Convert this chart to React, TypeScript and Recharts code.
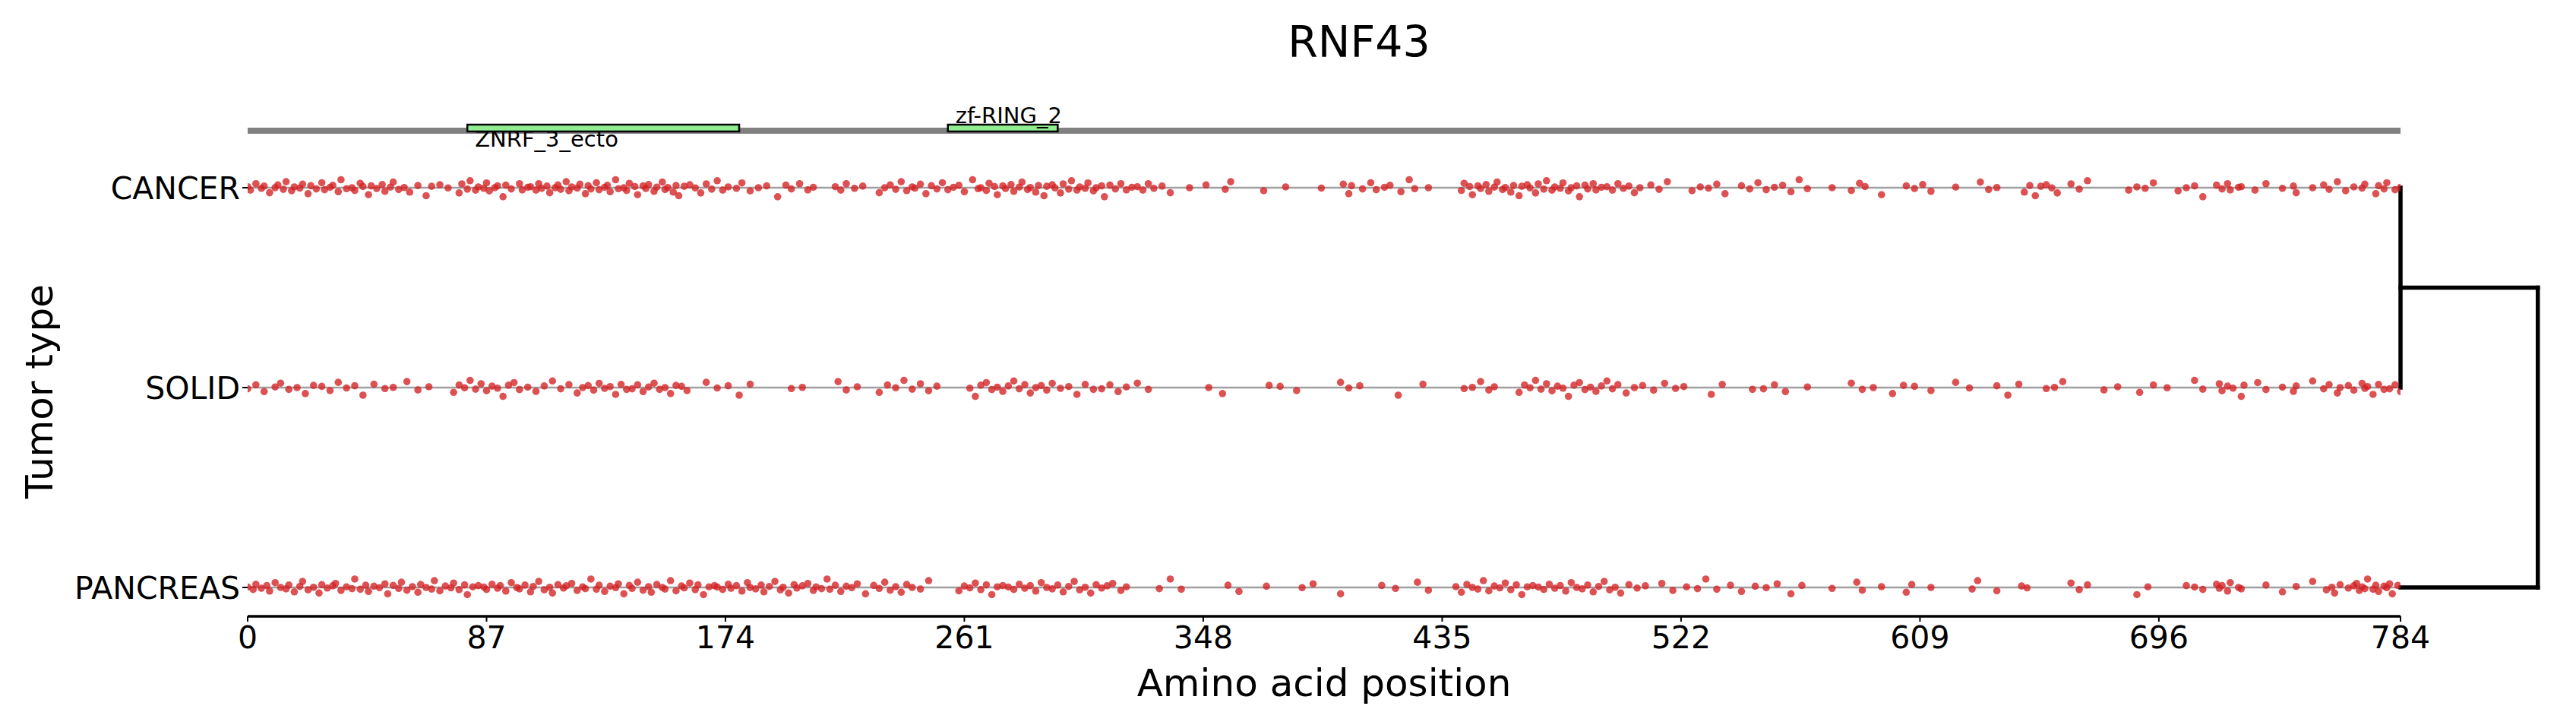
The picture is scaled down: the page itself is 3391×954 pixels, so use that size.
import { ReferenceArea, ReferenceLine, Scatter, ScatterChart, XAxis, YAxis } from 'recharts';

const geneName = 'RNF43';
const proteinLength = 784;
const tumorTypes = ['CANCER', 'SOLID', 'PANCREAS'];
const xTicks = [0, 87, 174, 261, 348, 435, 522, 609, 696, 784];

const domainNames = ['ZNRF_3_ecto', 'zf-RING_2'];
const domainStarts = [80, 255];
const domainEnds = [179, 295];

// mutation positions (amino acid) per tumor type
const cancerPositions = [
  0, 1, 3, 5, 6, 8, 10, 11, 13, 14, 16, 17, 19, 20, 22, 23, 25, 27, 28, 30, 31, 33, 34, 36, 38, 39, 41, 42, 44, 45,
  47, 49, 50, 52, 53, 55, 57, 59, 62, 65, 67, 70, 73, 77, 78, 80, 81, 83, 84, 86, 87, 88, 90, 91, 93, 94, 96, 99,
  100, 102, 103, 105, 106, 107, 109, 110, 112, 113, 114, 116, 117, 118, 120, 121, 123, 124, 125, 127, 128, 130, 131,
  132, 134, 135, 137, 138, 139, 141, 142, 144, 145, 146, 148, 149, 151, 152, 153, 155, 156, 157, 159, 161, 163, 165,
  167, 169, 171, 173, 175, 178, 180, 183, 186, 189, 193, 196, 198, 201, 204, 206, 214, 216, 218, 221, 224, 230, 232,
  234, 236, 238, 240, 242, 243, 245, 247, 249, 251, 253, 255, 257, 259, 261, 264, 266, 267, 269, 270, 272, 273, 275,
  276, 278, 279, 281, 282, 284, 285, 287, 288, 290, 291, 293, 294, 296, 297, 299, 300, 302, 303, 305, 306, 308, 309,
  311, 312, 314, 316, 318, 320, 322, 324, 326, 328, 330, 333, 336, 343, 349, 356, 358, 370, 378, 391, 399, 401, 402,
  406, 409, 411, 414, 416, 420, 423, 425, 430, 442, 443, 445, 446, 448, 449, 451, 452, 454, 455, 457, 458, 460, 461,
  463, 464, 466, 467, 469, 470, 472, 473, 475, 476, 478, 479, 481, 482, 484, 485, 487, 488, 490, 491, 493, 495, 497,
  499, 501, 503, 505, 507, 511, 514, 517, 526, 529, 532, 535, 538, 544, 547, 550, 553, 556, 559, 562, 565, 568, 577,
  584, 587, 589, 595, 604, 607, 610, 613, 622, 631, 634, 637, 647, 649, 651, 653, 655, 657, 659, 664, 667, 670, 685,
  688, 691, 694, 703, 706, 709, 712, 717, 719, 721, 722, 725, 726, 731, 735, 741, 745, 746, 752, 756, 758, 761, 764,
  767, 770, 771, 775, 776, 778, 779, 782, 784,
];

const solidPositions = [
  0, 3, 6, 10, 12, 15, 18, 21, 24, 27, 30, 33, 36, 39, 42, 46, 50, 53, 58, 62, 66, 75, 77, 79, 81, 83, 85, 87, 89, 91,
  93, 95, 97, 99, 102, 105, 108, 111, 114, 117, 120, 122, 124, 126, 128, 130, 132, 134, 136, 138, 140, 142, 144, 146,
  148, 150, 152, 154, 156, 158, 160, 167, 171, 175, 179, 183, 198, 202, 215, 218, 222, 230, 233, 236, 239, 242, 245,
  248, 251, 263, 265, 267, 269, 271, 273, 275, 277, 279, 281, 283, 285, 287, 289, 291, 293, 296, 299, 302, 305, 308,
  311, 314, 317, 320, 324, 328, 350, 355, 372, 376, 382, 398, 401, 405, 419, 428, 443, 446, 449, 452, 454, 463, 465,
  467, 469, 471, 473, 475, 477, 479, 481, 483, 485, 487, 489, 491, 493, 495, 497, 499, 502, 505, 508, 512, 516, 520,
  523, 533, 537, 548, 552, 556, 560, 568, 584, 588, 592, 599, 603, 607, 613, 622, 627, 637, 641, 645, 655, 658, 661,
  676, 681, 689, 694, 699, 709, 712, 718, 719, 721, 723, 726, 727, 732, 735, 741, 745, 746, 752, 756, 758, 761, 762,
  765, 767, 770, 771, 772, 774, 776, 778, 780, 782, 784,
];

const pancreasPositions = [
  0, 2, 3, 5, 7, 8, 10, 12, 14, 15, 17, 19, 20, 22, 24, 26, 27, 29, 31, 32, 34, 36, 38, 39, 41, 43, 44, 46, 48, 50,
  51, 53, 55, 56, 58, 60, 62, 63, 65, 67, 68, 70, 72, 74, 75, 77, 79, 80, 82, 84, 86, 87, 89, 91, 92, 94, 96, 98, 99,
  101, 103, 104, 106, 108, 110, 111, 113, 115, 116, 118, 120, 122, 123, 125, 127, 128, 130, 132, 134, 135, 137, 139,
  140, 142, 144, 146, 147, 149, 151, 152, 154, 156, 158, 159, 161, 163, 164, 166, 168, 170, 171, 173, 175, 176, 178,
  180, 182, 183, 185, 187, 188, 190, 192, 194, 195, 197, 199, 200, 202, 204, 206, 207, 209, 211, 212, 214, 216, 218,
  220, 222, 225, 228, 230, 232, 234, 236, 238, 240, 242, 245, 248, 259, 261, 263, 265, 267, 269, 271, 273, 275, 277,
  279, 281, 283, 285, 287, 289, 291, 293, 295, 297, 299, 301, 303, 305, 307, 309, 311, 313, 315, 318, 320, 332, 336,
  340, 357, 361, 371, 384, 388, 398, 413, 418, 426, 430, 440, 442, 444, 446, 448, 450, 452, 454, 456, 458, 460, 462,
  464, 466, 468, 470, 472, 474, 476, 478, 480, 482, 484, 486, 488, 490, 492, 494, 496, 498, 500, 503, 506, 509, 515,
  519, 524, 528, 531, 535, 540, 544, 549, 553, 557, 562, 566, 577, 586, 588, 595, 604, 606, 613, 628, 630, 637, 646,
  648, 664, 667, 670, 688, 692, 706, 709, 712, 717, 718, 719, 721, 722, 725, 726, 735, 741, 746, 752, 757, 759, 760,
  762, 765, 767, 768, 769, 770, 771, 772, 774, 775, 776, 778, 779, 780, 781, 783,
];

// vertical scatter of each dot, thousandths of a row
const cancerJitter = [
  5, -12, 20, -3, 8, -25, 0, 14, -8, 30, -15, 4, -2, 18, -30, 10, -6, 25, -10, 2, 12, -20, 40, -5, 0, -14, 22, 6, -35,
  9, -4, 16, -18, 3, 28, -9, 1, -22, 11, -40, 7, 15, -1, -26, 19, -7, 35, -12, 4, -3, 24, -16, 0, 9, -45, 13, -6, 20,
  -11, 2,
];
const solidJitter = [
  -6, 14, -20, 3, 22, -9, 0, -30, 11, 6, -15, 26, -2, 9, -38, 17, -5, 1, 30, -12, 4, -24, 13, -1, 36, -8, 19, -16, 7,
  -3, -44, 12, 25, -10, 2, -19, 8, 33, -6, 15, -27, 0, 10, -13, 21, -4, 5, -34, 16, -9,
];
const pancreasJitter = [
  2, -10, 16, -4, 9, -18, 24, 0, -7, 12, -22, 5, 30, -12, 1, -28, 14, -3, 8, 20, -15, 3, -6, 42, -9, 11, -20, 6, -1,
  18, -32, 10, -5, 26, -14, 4, -24, 15, 0, -8, 34, -17, 7, -2, 22, -11, 13, -36, 3, 9,
];

// dendrogram (amino-acid x, row y) segments
const dendroLeafX = 784;
const dendroRootX = 834;
const dendroMergeY = 1.5;

const rowPositions = [cancerPositions, solidPositions, pancreasPositions];
const rowJitter = [cancerJitter, solidJitter, pancreasJitter];

const TRACK_LO = 2.27;
const TRACK_HI = 2.3004;
const BOX_LO = 2.2814;
const BOX_HI = 2.3156;
const FONT = 'DejaVu Sans';

const rowValue = (i: number) => tumorTypes.length - 1 - i;

const rows = tumorTypes.map((name, i) =>
  rowPositions[i].map((x, k) => ({
    x,
    y: rowValue(i) + rowJitter[i][k % rowJitter[i].length] / 1000,
    name,
  }))
);

const dot = (p: any) => <circle cx={p.cx} cy={p.cy} r={4.8} fill="#d42022" fillOpacity={0.78} />;

export default function App() {
  const dendro = [
    [{ x: dendroLeafX, y: 2 }, { x: dendroLeafX, y: 1 }],
    [{ x: dendroLeafX, y: dendroMergeY }, { x: dendroRootX, y: dendroMergeY }],
    [{ x: dendroRootX, y: dendroMergeY }, { x: dendroRootX, y: 0 }],
    [{ x: dendroRootX, y: 0 }, { x: dendroLeafX, y: 0 }],
  ];

  return (
    <div style={{ position: 'absolute', left: 0, top: 0, width: 3391, height: 954, background: '#fff' }}>
      <ScatterChart width={3391} height={954} margin={{ top: 127, right: 231, bottom: 83, left: 26 }}>
        <XAxis
          type="number"
          dataKey="x"
          domain={[0, proteinLength]}
          ticks={xTicks}
          allowDataOverflow
          height={60}
          tickSize={7}
          tickMargin={6}
          axisLine={{ stroke: '#000', strokeWidth: 3.3 }}
          tickLine={{ stroke: '#000', strokeWidth: 2 }}
          tick={{ fontSize: 41, fill: '#000', fontFamily: FONT }}
        />
        <YAxis
          type="number"
          dataKey="y"
          domain={[-0.1445, 2.4563]}
          ticks={[0, 1, 2]}
          allowDataOverflow
          width={300}
          tickSize={7}
          tickMargin={3}
          axisLine={false}
          tickLine={{ stroke: '#000', strokeWidth: 2 }}
          tickFormatter={(v: number) => tumorTypes[tumorTypes.length - 1 - v] ?? ''}
          tick={{ fontSize: 41, fill: '#000', fontFamily: FONT }}
        />
        <ReferenceArea
          x1={0}
          x2={proteinLength}
          y1={TRACK_LO}
          y2={TRACK_HI}
          fill="#808080"
          fillOpacity={1}
          stroke="none"
        />
        {domainNames.map((name, i) => (
          <ReferenceArea
            key={name}
            x1={domainStarts[i]}
            x2={domainEnds[i]}
            y1={BOX_LO}
            y2={BOX_HI}
            fill="#90ee90"
            fillOpacity={1}
            stroke="#000"
            strokeWidth={2.5}
            label={(p: any) => {
              const vb = p.viewBox || {};
              const below = i % 2 === 0;
              return (
                <text
                  x={vb.x + 10}
                  y={below ? vb.y + vb.height + 20 : vb.y - 2}
                  fontSize={29}
                  fontFamily={FONT}
                  fill="#000"
                >
                  {name}
                </text>
              );
            }}
          />
        ))}
        {tumorTypes.map((name, i) => (
          <ReferenceLine
            key={name}
            segment={[{ x: 0, y: rowValue(i) }, { x: proteinLength, y: rowValue(i) }]}
            stroke="#a0a0a0"
            strokeWidth={2.5}
          />
        ))}
        {rows.map((data, i) => (
          <Scatter key={tumorTypes[i]} data={data} shape={dot} isAnimationActive={false} />
        ))}
        {dendro.map((seg, i) => (
          <ReferenceLine
            key={'d' + i}
            segment={seg}
            ifOverflow="visible"
            stroke="#000"
            strokeWidth={5.5}
            strokeLinecap="square"
          />
        ))}
      </ScatterChart>
      <svg
        width={3391}
        height={954}
        style={{ position: 'absolute', left: 0, top: 0, pointerEvents: 'none' }}
        fontFamily={FONT}
      >
        <text x={1789} y={75} fontSize={57} textAnchor="middle" fill="#000">
          {geneName}
        </text>
        <text x={1743} y={916} fontSize={50} textAnchor="middle" fill="#000">
          Amino acid position
        </text>
        <text x={69} y={515} fontSize={50} textAnchor="middle" fill="#000" transform="rotate(-90 69 515)">
          Tumor type
        </text>
      </svg>
    </div>
  );
}
